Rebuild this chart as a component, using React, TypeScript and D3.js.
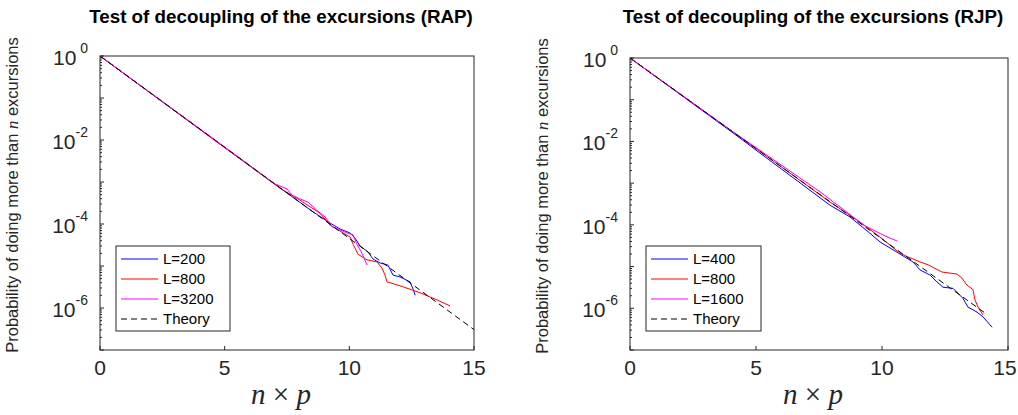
import React from 'react';
import * as d3 from 'd3';

type Pt = [number, number];

// RAP panel
const rapL200: Pt[] = [
  [0, 1], [4, 1.8e-2], [7.22, 7.2e-4], [8.54, 1.95e-4], [9.23, 1.05e-4], [9.63, 7.6e-5],
  [10.03, 6.1e-5], [10.23, 4.6e-5], [10.43, 3.0e-5], [10.75, 2.15e-5], [10.95, 1.47e-5],
  [11.23, 1.18e-5], [11.55, 1.05e-5], [11.75, 6.1e-6], [12.03, 5.5e-6], [12.43, 4.2e-6],
  [12.56, 2.8e-6], [12.64, 2.0e-6],
];
const rapL800: Pt[] = [
  [0, 1], [4, 1.8e-2], [7.22, 7.1e-4], [8.02, 3.7e-4], [8.82, 1.8e-4], [9.23, 9.5e-5],
  [9.75, 6.1e-5], [10.03, 4.9e-5], [10.15, 3.3e-5], [10.35, 1.9e-5], [10.71, 1.4e-5],
  [11.11, 1.25e-5], [11.31, 8.9e-6], [11.43, 6.1e-6], [11.51, 4.2e-6], [12.15, 3.2e-6],
  [12.84, 2.3e-6], [13.52, 1.55e-6], [14.04, 1.12e-6],
];
const rapL3200: Pt[] = [
  [0, 1], [4, 1.85e-2], [7.0, 9.1e-4], [7.5, 6.8e-4], [7.7, 4.9e-4], [8.0, 4.0e-4],
  [8.35, 3.3e-4], [8.7, 2.1e-4], [9.03, 1.47e-4], [9.31, 8.5e-5], [9.55, 7.6e-5],
  [9.91, 6.1e-5], [10.15, 5.5e-5], [10.31, 3.2e-5], [10.51, 2.0e-5], [10.71, 1.05e-5],
];
const rapTheory: Pt[] = [[0, 1], [15, 3.06e-7]];

// RJP panel
const rjpL400: Pt[] = [
  [0, 1], [4, 1.75e-2], [6, 2.2e-3], [7.94, 2.95e-4], [8.73, 1.55e-4], [9.52, 6.3e-5],
  [9.92, 3.9e-5], [10.6, 2.2e-5], [11.23, 1.29e-5], [11.51, 8.3e-6], [11.9, 6.3e-6],
  [12.18, 4.3e-6], [12.42, 3.2e-6], [12.82, 3.0e-6], [13.21, 1.74e-6], [13.41, 1.07e-6],
  [13.77, 8.1e-7], [14.01, 6.2e-7], [14.37, 3.5e-7],
];
const rjpL800: Pt[] = [
  [0, 1], [4, 1.83e-2], [7.94, 3.5e-4], [9.13, 1.17e-4], [9.92, 5.1e-5], [10.71, 2.1e-5],
  [11.03, 1.7e-5], [11.51, 1.29e-5], [11.83, 1.1e-5], [12.38, 7.4e-6], [12.98, 6.6e-6],
  [13.17, 5.3e-6], [13.37, 3.6e-6], [13.61, 2.8e-6], [13.69, 1.58e-6], [13.81, 1.07e-6],
  [14.01, 6.9e-7],
];
const rjpL1600: Pt[] = [
  [0, 1], [4, 1.85e-2], [7.54, 6.2e-4], [8.61, 2.0e-4], [9.25, 1.0e-4], [9.64, 7.6e-5],
  [10.04, 5.7e-5], [10.32, 4.8e-5], [10.6, 4.1e-5],
];
const rjpTheory: Pt[] = [[0, 1], [14.05, 8.0e-7]];

const rapLabels = ['L=200', 'L=800', 'L=3200', 'Theory'];
const rjpLabels = ['L=400', 'L=800', 'L=1600', 'Theory'];
const colors = ['#0000ff', '#ff0000', '#ff00ff', '#000000'];
const xTicks = [0, 5, 10, 15];
const yLabelExps = [0, -2, -4, -6];

const SANS = '"Liberation Sans", Arial, Helvetica, sans-serif';
const SERIF = '"Liberation Serif", "Times New Roman", serif';
const AXIS = '#262626';

type PanelProps = {
  x0: number; x1: number; y0: number; y1: number;
  title: string;
  series: Pt[][];
  labels: string[];
  legendX: number;
  legendW: number;
};

function Panel({ x0, x1, y0, y1, title, series, labels, legendX, legendW }: PanelProps) {
  const x = d3.scaleLinear().domain([0, 15]).range([x0, x1]);
  const y = d3.scaleLog().domain([1e-7, 1]).range([y1, y0]);
  const line = d3.line<Pt>().x(d => x(d[0])).y(d => y(d[1]));

  // decade and minor ticks for the log axis
  const decades = d3.range(-7, 1);
  const minors: number[] = [];
  decades.slice(0, -1).forEach(e => {
    for (let k = 2; k <= 9; k++) minors.push(k * Math.pow(10, e));
  });

  const cx = (x0 + x1) / 2;
  const cy = (y0 + y1) / 2;
  const legTop = 246;
  const rowH = 20;

  return (
    <g>
      <text x={cx - 6} y={23} textAnchor="middle" fontFamily={SANS} fontWeight="bold" fontSize={18.8}>
        {title}
      </text>

      <clipPath id={'clip' + x0}>
        <rect x={x0} y={y0} width={x1 - x0} height={y1 - y0} />
      </clipPath>
      <g clipPath={`url(#clip${x0})`}>
        {series.map((s, i) => (
          <path key={i} d={line(s) || ''} fill="none" stroke={colors[i]} strokeWidth={1}
            strokeDasharray={i === 3 ? '6,4' : undefined} />
        ))}
      </g>

      {/* axes box */}
      <rect x={x0} y={y0} width={x1 - x0} height={y1 - y0} fill="none" stroke={AXIS} strokeWidth={1} />

      {/* x ticks */}
      {xTicks.map(t => (
        <g key={t}>
          <line x1={x(t)} x2={x(t)} y1={y1} y2={y1 - 4} stroke={AXIS} />
          <text x={Math.min(x(t), 1005)} y={y1 + 25} textAnchor="middle" fontFamily={SANS} fontSize={21} fill={AXIS}>{t}</text>
        </g>
      ))}

      {/* y ticks */}
      {decades.map(e => (
        <line key={e} x1={x0} x2={x0 + 4} y1={y(Math.pow(10, e))} y2={y(Math.pow(10, e))} stroke={AXIS} />
      ))}
      {minors.map((m, i) => (
        <line key={i} x1={x0} x2={x0 + 2} y1={y(m)} y2={y(m)} stroke={AXIS} />
      ))}
      {yLabelExps.map(e => (
        <text key={e} x={x0 - 12} y={y(Math.pow(10, e)) + 9} textAnchor="end" fontFamily={SANS} fontSize={21} fill={AXIS}>
          10
          <tspan fontSize={14} dy={-12}>{e === 0 ? '\u00a00' : e}</tspan>
        </text>
      ))}

      {/* axis labels */}
      <text transform={`translate(${x0 - 82},${cy - 8}) rotate(-90)`} textAnchor="middle" fontFamily={SANS} fontSize={16.5} fill={AXIS}>
        Probability of doing more than <tspan fontFamily={SERIF} fontStyle="italic">n</tspan> excursions
      </text>
      <text x={cx - 6} y={404} textAnchor="middle" fontFamily={SERIF} fontSize={29} fill={AXIS}>
        <tspan fontStyle="italic">n</tspan> × <tspan fontStyle="italic">p</tspan>
      </text>

      {/* legend */}
      <rect x={legendX} y={legTop} width={legendW} height={85} fill="#fff" stroke={AXIS} strokeWidth={1} />
      {labels.map((lab, i) => (
        <g key={lab}>
          <line x1={legendX + 5} x2={legendX + 42} y1={legTop + 13 + i * rowH} y2={legTop + 13 + i * rowH}
            stroke={colors[i]} strokeWidth={1} strokeDasharray={i === 3 ? '6,4' : undefined} />
          <text x={legendX + 47} y={legTop + 18 + i * rowH} fontFamily={SANS} fontSize={15} fill="#000">{lab}</text>
        </g>
      ))}
    </g>
  );
}

export default function App() {
  return (
    <svg width={1018} height={415} style={{ position: 'absolute', left: 0, top: 0, background: '#fff' }}>
      <rect width={1018} height={415} fill="#fff" />
      <Panel x0={100} x1={474} y0={56} y1={350} title="Test of decoupling of the excursions (RAP)"
        series={[rapL200, rapL800, rapL3200, rapTheory]} labels={rapLabels} legendX={116} legendW={114} />
      <Panel x0={630} x1={1008} y0={58} y1={350} title="Test of decoupling of the excursions (RJP)"
        series={[rjpL400, rjpL800, rjpL1600, rjpTheory]} labels={rjpLabels} legendX={646} legendW={115} />
    </svg>
  );
}
